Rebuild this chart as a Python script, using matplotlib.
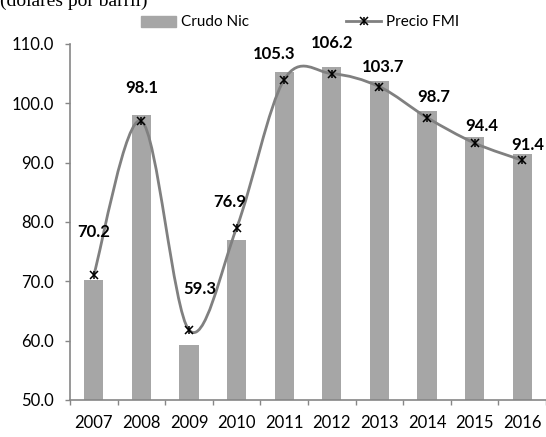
import numpy as np
import matplotlib
matplotlib.use("Agg")
import matplotlib.pyplot as plt
from matplotlib.path import Path
from matplotlib.patches import PathPatch, Patch
from matplotlib.lines import Line2D
from matplotlib.legend_handler import HandlerTuple

years = ["2007", "2008", "2009", "2010", "2011", "2012", "2013", "2014", "2015", "2016"]
crudo_nic = [70.2, 98.1, 59.3, 76.9, 105.3, 106.2, 103.7, 98.7, 94.4, 91.4]
precio_fmi = [71.1, 97.0, 61.8, 79.0, 104.0, 105.0, 102.8, 97.6, 93.3, 90.4]
yticks = [50, 60, 70, 80, 90, 100, 110]

# label nudges (pixels) from the top of each bar
lab_dx = [0, 0, 11, -7, -10, 0, 4, 7, 7, 6]
lab_dy = [48, 27, 56, 38, 18, 24, 14, 14, 11, 9]

plt.rcParams['font.family'] = ['Lato', 'DejaVu Sans']
bar_col = '#A6A6A6'
line_col = '#808080'
axis_col = '#868686'

fig = plt.figure(figsize=(5.46, 4.37), dpi=100)
ax = fig.add_axes([70/546, 1-400/437, 476/546, 356/437])

x = np.arange(len(years))
ax.bar(x, crudo_nic, width=0.4, color=bar_col, zorder=2)

# smoothed line (Excel style bezier through the points)
pts = np.column_stack([x, precio_fmi]).astype(float)
verts = [pts[0]]
codes = [Path.MOVETO]
n = len(pts)
for i in range(n - 1):
    p_prev = pts[i - 1] if i > 0 else pts[i]
    p_next2 = pts[i + 2] if i + 2 < n else pts[i + 1]
    c1 = pts[i] + (pts[i + 1] - p_prev) / 6
    c2 = pts[i + 1] - (p_next2 - pts[i]) / 6
    verts += [c1, c2, pts[i + 1]]
    codes += [Path.CURVE4] * 3
ax.add_patch(PathPatch(Path(verts, codes), facecolor='none', edgecolor=line_col,
                       lw=2.0, zorder=3, capstyle='round'))
ax.plot(x, precio_fmi, ls='none', marker='x', ms=6, mew=1.1, color='black', zorder=4)
ax.plot(x, precio_fmi, ls='none', marker='|', ms=6, mew=1.1, color='black', zorder=4)

for i, v in enumerate(crudo_nic):
    ax.annotate(f"{v:.1f}", (x[i], v), xytext=(lab_dx[i]*0.72, lab_dy[i]*0.72),
                textcoords='offset points', ha='center', va='center',
                fontsize=12, fontweight='bold', color='black', zorder=5)

ax.set_ylim(50, 110)
ax.set_xlim(-0.5, 9.5)
ax.set_yticks(yticks)
ax.set_yticklabels([f"{t:.1f}" for t in yticks])
ax.set_xticks(x)
ax.set_xticklabels(years)
ax.set_xticks(np.arange(-0.5, 10, 1), minor=True)
ax.tick_params(axis='x', which='major', length=0, pad=11, labelsize=12)
ax.tick_params(axis='x', which='minor', length=3.6, width=1, color=axis_col, direction='out')
ax.tick_params(axis='y', length=3.6, width=1, color=axis_col, pad=8.2, labelsize=12)
for s in ['top', 'right']:
    ax.spines[s].set_visible(False)
for s in ['left', 'bottom']:
    ax.spines[s].set_color(axis_col)
    ax.spines[s].set_linewidth(1.2)

line_h = Line2D([0, 1], [0, 0], color=line_col, lw=2, marker='x', ms=6, mew=1.1,
                mec='black')
star_h = Line2D([0, 1], [0, 0], ls='none', marker='|', ms=6, mew=1.1, mec='black')
handles = [Patch(color=bar_col), (line_h, star_h)]
fig.legend(handles, ["Crudo Nic", "Precio FMI"], ncol=2, loc='center',
           bbox_to_anchor=(300/546, 1-22.5/437), frameon=False, fontsize=11,
           handlelength=2.3, handletextpad=0.3, columnspacing=6.4,
           handler_map={tuple: HandlerTuple(ndivide=1)})

fig.text(0.0, 1-6/437, "(dólares por barril)", family='Liberation Serif', fontsize=14,
         ha='left', va='baseline')

fig.savefig('out.png', dpi=100)
